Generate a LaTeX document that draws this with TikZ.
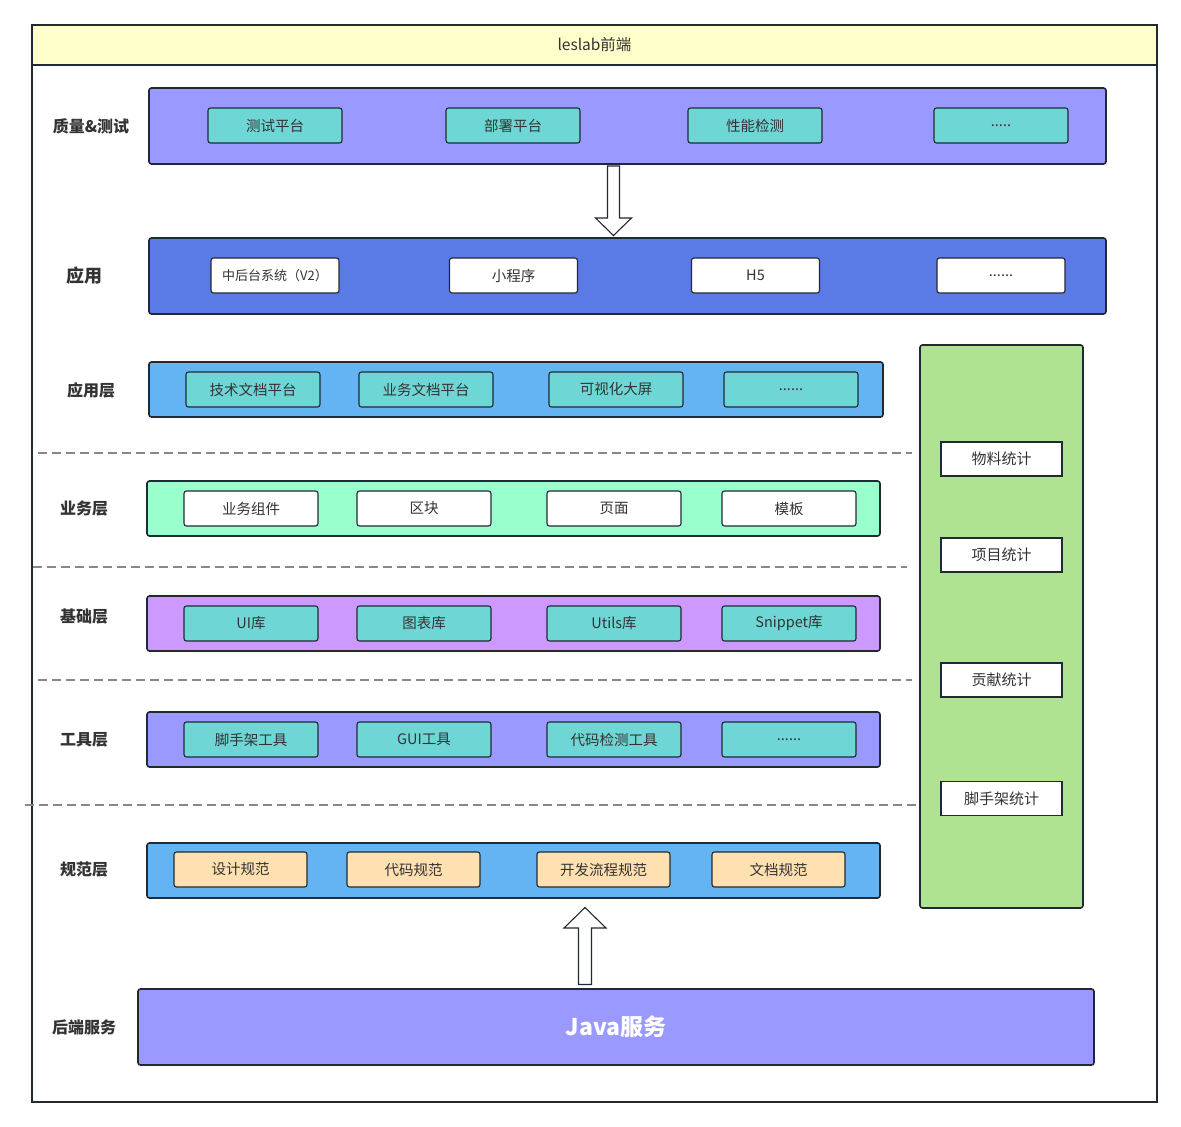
\documentclass[tikz,border=0pt]{standalone}
\usepackage{fontspec}
\setmainfont{Noto Sans CJK SC}
\definecolor{edge}{RGB}{33,41,51}
\definecolor{txt}{RGB}{51,51,51}
\definecolor{hdrfill}{RGB}{255,255,204}
\definecolor{lav}{RGB}{153,153,255}
\definecolor{royal}{RGB}{90,123,230}
\definecolor{sky}{RGB}{100,180,244}
\definecolor{mint}{RGB}{153,255,204}
\definecolor{lilac}{RGB}{204,153,255}
\definecolor{tealc}{RGB}{111,214,214}
\definecolor{peach}{RGB}{255,224,176}
\definecolor{leaf}{RGB}{176,227,145}
\definecolor{sepgray}{RGB}{136,136,136}
\begin{document}
\begin{tikzpicture}[x=1pt,y=-1pt,
 band/.style={draw=edge, line width=1.6pt, rounded corners=2.5pt, inner sep=0pt},
 item/.style={draw=edge, line width=1.1pt, rounded corners=2.5pt, minimum width=134pt, minimum height=35pt, inner sep=0pt, font=\fontsize{14.5}{16}\selectfont, text=txt},
 stat/.style={draw=edge, line width=1.1pt, fill=white, minimum width=121pt, minimum height=34pt, inner sep=0pt, font=\fontsize{15}{17}\selectfont, text=txt},
 lbl/.style={font=\fontsize{16}{18}\selectfont\bfseries, text=txt},
 sepline/.style={draw=sepgray, line width=1.4pt, dash pattern=on 9pt off 5pt},
 hollow/.style={draw=edge, fill=white, line width=1.1pt, line join=miter}]
\useasboundingbox (0,0) rectangle (1181,1127);

% outer frame and header
\draw[edge, line width=1.6pt] (32,25) rectangle (1157,1102);
\node[draw=edge, line width=1.6pt, fill=hdrfill, minimum width=1125pt, minimum height=40pt, inner sep=0pt, font=\fontsize{15.5}{17}\selectfont, text=txt] (hdr) at (594.5,45) {leslab前端};

% row 1: quality & test
\node[band, fill=lav, minimum width=957pt, minimum height=76pt] (qbox) at (627.5,126) {};
\node[lbl] (qlbl) at (91,126) {质量\&测试};
\node[item, fill=tealc] (q1) at (275,125.5) {测试平台};
\node[item, fill=tealc] (q2) at (513,125.5) {部署平台};
\node[item, fill=tealc] (q3) at (755,125.5) {性能检测};
\node[item, fill=tealc] (q4) at (1001,125.5) {.....};

% row 2: apps
\node[band, fill=royal, minimum width=957pt, minimum height=76pt] (abox) at (627.5,276) {};
\node[lbl, font=\fontsize{18}{20}\selectfont\bfseries] (albl) at (84,276) {应用};
\node[item, fill=white, minimum width=128pt, font=\fontsize{13}{15}\selectfont] (a1) at (275,275.5) {中后台系统（V2）};
\node[item, fill=white, minimum width=128pt] (a2) at (513.5,275.5) {小程序};
\node[item, fill=white, minimum width=128pt] (a3) at (755.5,275.5) {H5};
\node[item, fill=white, minimum width=128pt] (a4) at (1001,275.5) {......};

% down arrow
\draw[hollow] (607.5,166) -- (619.5,166) -- (619.5,218) -- (631.5,218) -- (613.5,235.5) -- (595.5,218) -- (607.5,218) -- cycle;

% green stats column
\node[band, fill=leaf, minimum width=163pt, minimum height=563pt] (gcol) at (1001.5,626.5) {};
\node[stat] (s1) at (1001.5,459) {物料统计};
\node[stat] (s2) at (1001.5,555) {项目统计};
\node[stat] (s3) at (1001.5,680) {贡献统计};
\node[stat] (s4) at (1001.5,798.5) {脚手架统计};

% row 3: application layer
\node[band, fill=sky, minimum width=734pt, minimum height=55pt] (r3) at (516,389.5) {};
\node[lbl] (l3) at (91,390) {应用层};
\node[item, fill=tealc] (r3a) at (253,389.5) {技术文档平台};
\node[item, fill=tealc] (r3b) at (426,389.5) {业务文档平台};
\node[item, fill=tealc] (r3c) at (616,389.5) {可视化大屏};
\node[item, fill=tealc] (r3d) at (791,389.5) {......};

\draw[sepline] (38,453) -- (912,453);

% row 4: business layer
\node[band, fill=mint, minimum width=733pt, minimum height=55pt] (r4) at (513.5,508.5) {};
\node[lbl] (l4) at (84,509) {业务层};
\node[item, fill=white] (r4a) at (251,508.5) {业务组件};
\node[item, fill=white] (r4b) at (424,508.5) {区块};
\node[item, fill=white] (r4c) at (614,508.5) {页面};
\node[item, fill=white] (r4d) at (789,508.5) {模板};

\draw[sepline] (33,567) -- (907,567);

% row 5: base layer
\node[band, fill=lilac, minimum width=733pt, minimum height=55pt] (r5) at (513.5,623.5) {};
\node[lbl] (l5) at (84,617) {基础层};
\node[item, fill=tealc] (r5a) at (251,623.5) {UI库};
\node[item, fill=tealc] (r5b) at (424,623.5) {图表库};
\node[item, fill=tealc] (r5c) at (614,623.5) {Utils库};
\node[item, fill=tealc] (r5d) at (789,623.5) {Snippet库};

\draw[sepline] (38,680) -- (912,680);

% row 6: tools layer
\node[band, fill=lav, minimum width=733pt, minimum height=55pt] (r6) at (513.5,739.5) {};
\node[lbl] (l6) at (84,740) {工具层};
\node[item, fill=tealc] (r6a) at (251,739.5) {脚手架工具};
\node[item, fill=tealc] (r6b) at (424,739.5) {GUI工具};
\node[item, fill=tealc] (r6c) at (614,739.5) {代码检测工具};
\node[item, fill=tealc] (r6d) at (789,739.5) {......};

\draw[sepline] (25,805) -- (916,805);

% row 7: standards layer
\node[band, fill=sky, minimum width=733pt, minimum height=55pt] (r7) at (513.5,870.5) {};
\node[lbl] (l7) at (84,870) {规范层};
\node[item, fill=peach, minimum width=133pt] (r7a) at (240.5,869.5) {设计规范};
\node[item, fill=peach, minimum width=133pt] (r7b) at (413.5,869.5) {代码规范};
\node[item, fill=peach, minimum width=133pt] (r7c) at (603.5,869.5) {开发流程规范};
\node[item, fill=peach, minimum width=133pt] (r7d) at (778.5,869.5) {文档规范};

% up arrow
\draw[hollow] (578.5,984.5) -- (591.5,984.5) -- (591.5,928) -- (606,928) -- (585,907.5) -- (564,928) -- (578.5,928) -- cycle;

% row 8: backend
\node[band, fill=lav, minimum width=956pt, minimum height=76pt, text=white, font=\fontsize{23}{26}\selectfont\bfseries] (r8) at (616,1027) {Java服务};
\node[lbl] (l8) at (84,1027) {后端服务};
\end{tikzpicture}
\end{document}
